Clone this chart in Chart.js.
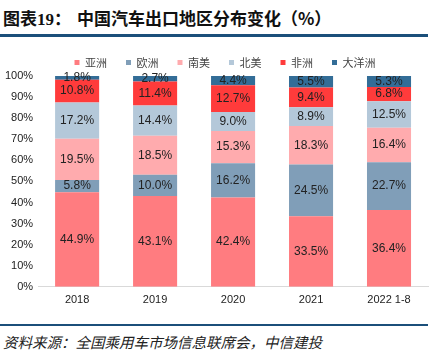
<!DOCTYPE html>
<html>
<head>
<meta charset="utf-8">
<script src="https://cdn.jsdelivr.net/npm/chart.js@4/dist/chart.umd.min.js"></script>
<style>
  body { margin: 0; background: #fff; width: 430px; height: 352px; overflow: hidden; position: relative; font-family: "Liberation Sans", Arial, sans-serif; }
  .title { position: absolute; left: 3px; top: 5px; font-family: "Noto Sans CJK SC", sans-serif; font-weight: bold; font-size: 17px; color: #111; white-space: nowrap; }
  .title .num { font-family: "Liberation Serif", serif; }
  .title .main { position: absolute; left: 74px; }
  .topline { position: absolute; left: 0; top: 34px; width: 428px; height: 3px; background: #1b4f7a; }
  .botline { position: absolute; left: 0; top: 324px; width: 428px; height: 2px; background: #1b4f7a; }
  .source { position: absolute; left: 3px; top: 331px; font-family: "Noto Sans CJK SC", sans-serif; font-style: italic; font-size: 14.5px; color: #222; white-space: nowrap; }
  .wrap { position: absolute; left: 0; top: 36px; width: 430px; height: 278px; }
</style>
</head>
<body>
<div class="title">图表<span class="num">19</span>：<span class="main">中国汽车出口地区分布变化（%）</span></div>
<div class="topline"></div>
<div class="wrap"><canvas id="myChart"></canvas></div>
<div class="botline"></div>
<div class="source">资料来源：全国乘用车市场信息联席会，中信建投</div>
<script>
const years = ['2018', '2019', '2020', '2021', '2022 1-8']
const regions = ['亚洲', '欧洲', '南美', '北美', '非洲', '大洋洲']
const asia = [44.9, 43.1, 42.4, 33.5, 36.4]
const europe = [5.8, 10.0, 16.2, 24.5, 22.7]
const southAmerica = [19.5, 18.5, 15.3, 18.3, 16.4]
const northAmerica = [17.2, 14.4, 9.0, 8.9, 12.5]
const africa = [10.8, 11.4, 12.7, 9.4, 6.8]
const oceania = [1.8, 2.7, 4.4, 5.5, 5.3]
const yTicks = [0, 10, 20, 30, 40, 50, 60, 70, 80, 90, 100]

const colors = ['#ff7c80', '#809eb8', '#ffabae', '#b4c8d9', '#ff3b3b', '#336d97']
const series = [asia, europe, southAmerica, northAmerica, africa, oceania]

// draw the % label in the middle of every segment
const segLabels = {
    id: 'segLabels',
    afterLayout(chart) {
        // legend sits a bit right of centre (and a bit lower) in the original
        chart.legend.left += 11
        chart.legend.right += 11
        chart.legend.top += 2
        chart.legend.bottom += 2
    },
    afterDatasetsDraw(chart) {
        const ctx = chart.ctx
        ctx.save()
        ctx.font = '12px "Liberation Sans", Arial, sans-serif'
        ctx.fillStyle = '#222'
        ctx.textAlign = 'center'
        ctx.textBaseline = 'middle'
        chart.data.datasets.forEach((ds, i) => {
            chart.getDatasetMeta(i).data.forEach((bar, j) => {
                const y = (bar.y + bar.base) / 2
                ctx.fillText(ds.data[j].toFixed(1) + '%', bar.x, y)
            })
        })
        ctx.restore()
    }
}

const ctx = document.getElementById('myChart').getContext('2d')
const chart = new Chart(ctx, {
    type: 'bar',
    data: {
        labels: years,
        datasets: regions.map((r, i) => ({
            label: r,
            data: series[i],
            backgroundColor: colors[i],
            borderWidth: 0,
            barPercentage: 0.565,
            categoryPercentage: 1
        }))
    },
    options: {
        responsive: true,
        maintainAspectRatio: false,
        animation: false,
        layout: { padding: { left: 0, right: 2, top: 0, bottom: 0 } },
        plugins: {
            legend: {
                position: 'top',
                labels: {
                    boxWidth: 5,
                    boxHeight: 5,
                    padding: 19,
                    color: '#444',
                    font: { size: 11, family: '"Noto Sans CJK SC", sans-serif' }
                }
            },
            tooltip: { enabled: false }
        },
        scales: {
            x: {
                stacked: true,
                grid: { display: false, drawTicks: false },
                border: { color: '#d9d9d9' },
                ticks: { color: '#222', padding: 7, font: { size: 11, family: '"Liberation Sans", Arial, sans-serif' } }
            },
            y: {
                stacked: true,
                min: 0,
                max: 100,
                afterBuildTicks: axis => { axis.ticks = yTicks.map(v => ({ value: v })) },
                grid: { display: false, drawTicks: false },
                border: { display: false },
                ticks: {
                    color: '#222',
                    padding: 5,
                    font: { size: 11, family: '"Liberation Sans", Arial, sans-serif' },
                    callback: v => v + '%'
                }
            }
        }
    },
    plugins: [segLabels]
})
</script>
</body>
</html>
